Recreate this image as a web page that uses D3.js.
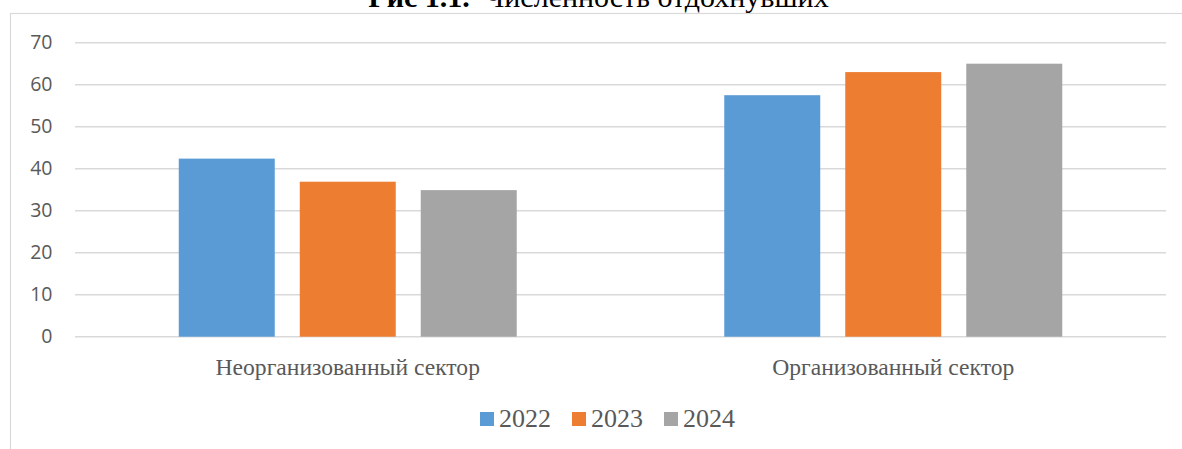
<!DOCTYPE html>
<html>
<head>
<meta charset="utf-8">
<script src="https://cdn.jsdelivr.net/npm/d3@7"></script>
<style>
  body { margin: 0; background: #fff; }
  svg { display: block; }
</style>
</head>
<body>
<svg id="chart"></svg>
<script>
var categories = ["Неорганизованный сектор", "Организованный сектор"];
var years = ["2022", "2023", "2024"];
var values2022 = [42.4, 57.5];
var values2023 = [36.9, 63.0];
var values2024 = [34.9, 65.0];
var yTicks = [0, 10, 20, 30, 40, 50, 60, 70];
var colors = ["#5b9bd5", "#ed7d31", "#a5a5a5"];

var width = 1182, height = 449;
var margin = { top: 42.7, right: 16, bottom: 112.3, left: 75 };
var textColor = "#595959";
var serif = "'Liberation Serif', 'Times New Roman', serif";

var series = [values2022, values2023, values2024];

var svg = d3.select("#chart")
  .attr("width", width)
  .attr("height", height);

// chart frame
svg.append("rect")
  .attr("x", 10.5)
  .attr("y", 13.5)
  .attr("width", 1300)
  .attr("height", 600)
  .attr("fill", "#fff")
  .attr("stroke", "#d9d9d9")
  .attr("stroke-width", 1.2);

// title (cut at the top like in the picture)
var title = svg.append("text")
  .attr("x", 598.5)
  .attr("y", 6.5)
  .attr("text-anchor", "middle")
  .attr("font-family", serif)
  .attr("font-size", "30px")
  .attr("fill", "#000");
title.append("tspan").attr("font-weight", "bold").text("Рис 1.1.");
title.append("tspan").attr("xml:space", "preserve").text("  Численность отдохнувших");

var x0 = d3.scaleBand()
  .domain(categories)
  .range([margin.left, width - margin.right])
  .padding(0);

var groupWidth = 338;
var x1 = d3.scaleBand()
  .domain(years)
  .range([0, groupWidth])
  .paddingInner(25 / 121)
  .paddingOuter(0);

var y = d3.scaleLinear()
  .domain([0, 70])
  .range([height - margin.bottom, margin.top]);

// gridlines
svg.append("g")
  .selectAll("line")
  .data(yTicks)
  .enter().append("line")
  .attr("x1", margin.left)
  .attr("x2", width - margin.right)
  .attr("y1", d => y(d))
  .attr("y2", d => y(d))
  .attr("stroke", "#d9d9d9")
  .attr("stroke-width", 1.4);

// y axis labels
var yAxis = d3.axisLeft(y).tickValues(yTicks).tickSize(0).tickPadding(0);
var gy = svg.append("g")
  .attr("transform", `translate(${margin.left - 22.5}, 0)`)
  .call(yAxis);
gy.select(".domain").remove();
gy.selectAll("text")
  .style("font-family", "'Open Sans', 'Liberation Sans', sans-serif")
  .style("font-size", "19.5px")
  .style("fill", textColor);

// bars
var groups = svg.append("g")
  .selectAll("g")
  .data(categories)
  .enter().append("g")
  .attr("transform", d => `translate(${x0(d) + (x0.bandwidth() - groupWidth) / 2}, 0)`);

groups.selectAll("rect")
  .data((d, i) => years.map((yr, j) => ({ year: yr, value: series[j][i], color: colors[j] })))
  .enter().append("rect")
  .attr("x", d => x1(d.year))
  .attr("y", d => y(d.value))
  .attr("width", x1.bandwidth())
  .attr("height", d => y(0) - y(d.value))
  .attr("fill", d => d.color);

// x axis labels
var xAxis = d3.axisBottom(x0).tickSize(0).tickPadding(0);
var gx = svg.append("g")
  .attr("transform", `translate(0, ${y(0)})`)
  .call(xAxis);
gx.select(".domain").remove();
gx.selectAll("text")
  .attr("dy", null)
  .attr("y", 38)
  .style("font-family", serif)
  .style("font-size", "23.6px")
  .style("fill", textColor);

// legend
var legendX = 480, legendY = 426.5, itemStep = 92;
var legend = svg.append("g")
  .selectAll("g")
  .data(years)
  .enter().append("g")
  .attr("transform", (d, i) => `translate(${legendX + i * itemStep}, ${legendY})`);

legend.append("rect")
  .attr("x", 0)
  .attr("y", -14.5)
  .attr("width", 14)
  .attr("height", 14)
  .attr("fill", (d, i) => colors[i]);

legend.append("text")
  .attr("x", 19)
  .attr("y", 0)
  .attr("font-family", serif)
  .attr("font-size", "26px")
  .attr("fill", textColor)
  .text(d => d);
</script>
</body>
</html>
